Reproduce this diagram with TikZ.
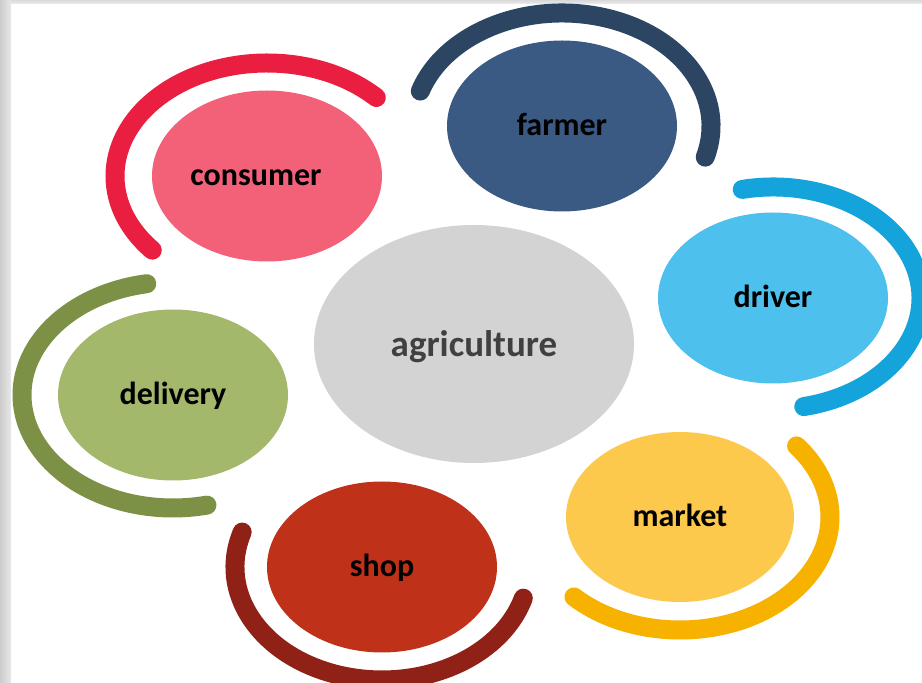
\documentclass[tikz,border=0pt]{standalone}
\usepackage{fontspec}
\setmainfont{Carlito}
\usetikzlibrary{shapes.geometric}
\definecolor{agfill}{HTML}{D3D3D3}
\definecolor{agtext}{HTML}{404040}
\definecolor{confill}{HTML}{F26178}
\definecolor{conarc}{HTML}{EA1E40}
\definecolor{farfill}{HTML}{3A5A83}
\definecolor{fararc}{HTML}{2C4563}
\definecolor{drvfill}{HTML}{4DC0EE}
\definecolor{drvarc}{HTML}{14A3DA}
\definecolor{mktfill}{HTML}{FDC94C}
\definecolor{mktarc}{HTML}{F7B200}
\definecolor{shpfill}{HTML}{C0311A}
\definecolor{shparc}{HTML}{8F2116}
\definecolor{delfill}{HTML}{A3B86B}
\definecolor{delarc}{HTML}{7D9146}
\tikzset{
  x=1pt, y=1pt,
  bubble/.style={ellipse, inner sep=0pt, minimum width=230pt, minimum height=171pt,
    text height=20pt, text depth=0pt,
    font=\fontsize{32}{38}\selectfont\bfseries, text=black},
  ring/.style={line width=19pt, line cap=round}
}
\begin{document}
\begin{tikzpicture}
\useasboundingbox (0,0) rectangle (922,683);
\fill[white] (0,0) rectangle (922,683);
\shade[left color=black!20, right color=black!9] (0,0) rectangle (11,683);
\shade[top color=black!15, bottom color=black!8] (11,679.5) rectangle (922,683);

\node[ellipse, inner sep=0pt, minimum width=320pt, minimum height=238pt, fill=agfill,
  text height=26pt, text depth=0pt,
  text=agtext, font=\fontsize{37}{44}\selectfont\bfseries] (agri) at (474,339) {agriculture};

\node[bubble, fill=confill] (consumer) at (267,507) {consumer\hspace*{22pt}};
\node[bubble, fill=farfill] (farmer) at (562,557) {farmer};
\node[bubble, fill=drvfill] (driver) at (773,385) {driver};
\node[bubble, fill=mktfill, minimum width=228pt, minimum height=170pt] (market) at (680,166) {market};
\node[bubble, fill=shpfill] (shop) at (382,116) {shop};
\node[bubble, fill=delfill] (delivery) at (173,288) {delivery};

\draw[ring, conarc] ([shift={(44:152pt and 113pt)}]consumer.center)
  arc[start angle=44, end angle=221, x radius=152pt, y radius=113pt];
\draw[ring, fararc] ([shift={(-16:149pt and 113pt)}]farmer.center)
  arc[start angle=-16, end angle=162, x radius=149pt, y radius=113pt];
\draw[ring, drvarc] ([shift={(-78:148pt and 111pt)}]driver.center)
  arc[start angle=-78, end angle=102, x radius=148pt, y radius=111pt];
\draw[ring, mktarc] ([shift={(225:150pt and 113pt)}]market.center)
  arc[start angle=225, end angle=399, x radius=150pt, y radius=113pt];
\draw[ring, shparc] ([shift={(162:147pt and 113pt)}]shop.center)
  arc[start angle=162, end angle=344, x radius=147pt, y radius=113pt];
\draw[ring, delarc] ([shift={(100:151pt and 113pt)}]delivery.center)
  arc[start angle=100, end angle=283, x radius=151pt, y radius=113pt];
\end{tikzpicture}
\end{document}
